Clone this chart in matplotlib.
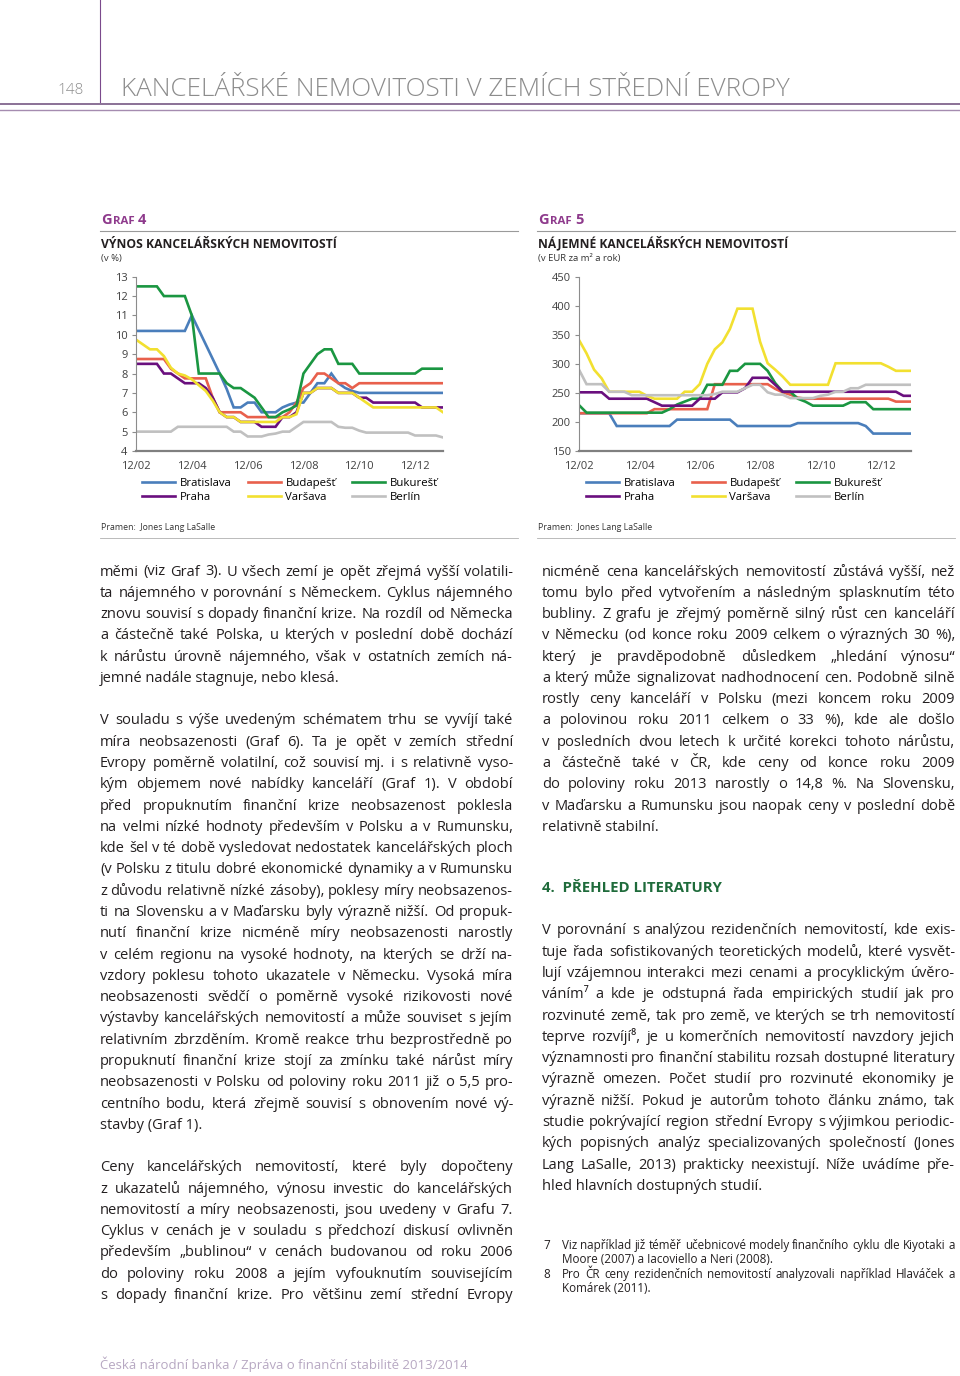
import matplotlib
matplotlib.use('Agg')
import matplotlib.pyplot as plt
from matplotlib.font_manager import FontProperties
import numpy as np

FAM = ['Open Sans', 'DejaVu Sans']
plt.rcParams['font.family'] = FAM

# ---------------- data ----------------
quarters = np.arange(45)          # 12/02 ... 12/13, quarterly
tick_pos = [0, 8, 16, 24, 32, 40]
tick_lab = ['12/02', '12/04', '12/06', '12/08', '12/10', '12/12']
cities = ['Bratislava', 'Budapešť', 'Bukurešť', 'Praha', 'Varšava', 'Berlín']
colors = ['#4a7ebb', '#e8604c', '#1a9641', '#6a0f7e', '#f2e030', '#c0c0c0']

# Graf 4 - vynos (v %)
y_bratislava = [10.2]*8 + [11.0, 10.25, 9.5, 8.75, 8.0, 7.2, 6.25, 6.25, 6.5, 6.5, 6.0, 6.0, 6.0,
                6.25, 6.4, 6.5, 6.5, 7.0, 7.5, 7.5, 8.0, 7.5, 7.25, 7.1] + [7.0]*13
y_budapest = [8.75]*5 + [8.25, 8.0, 7.75, 7.75, 7.75, 7.75, 6.75, 6.0, 6.0, 6.0, 6.0] + [5.75]*6 + \
             [6.0, 6.5, 7.25, 7.5, 8.0, 8.0, 7.75, 7.5, 7.5, 7.25] + [7.5]*13
y_bukurest = [12.5]*4 + [12.0]*4 + [11.0, 8.0, 8.0, 8.0, 8.0, 7.5, 7.25, 7.25, 7.0, 6.75, 6.25, 5.75,
              5.75, 6.0, 6.15, 6.35, 8.0, 8.5, 9.0, 9.25, 9.25, 8.5, 8.5, 8.5] + [8.0]*9 + [8.25]*4
y_praha = [8.5]*4 + [8.0, 8.0, 7.75, 7.5, 7.5, 7.5, 7.25, 6.75, 6.0, 5.75, 5.75, 5.5, 5.5, 5.5,
           5.25, 5.25, 5.25, 5.75, 5.75, 6.0, 7.0, 7.0, 7.25, 7.25, 7.25, 7.0, 7.0, 7.0, 6.75, 6.75] + \
          [6.5]*7 + [6.25]*4
y_varsava = [9.75, 9.5, 9.25, 9.25, 8.9, 8.3, 8.0, 7.9, 7.7, 7.4, 7.1, 6.6, 6.0, 5.75, 5.75] + [5.5]*6 + \
            [5.75, 5.75, 5.9, 7.0, 7.0, 7.25, 7.25, 7.25, 7.0, 7.0, 7.0, 6.75, 6.5] + [6.25]*10 + [6.0]
y_berlin = [5.0]*6 + [5.25]*8 + [5.0, 5.0, 4.75, 4.75, 4.75, 4.85, 4.9, 5.0, 5.0, 5.25] + [5.5]*5 + \
           [5.25, 5.2, 5.2, 5.05] + [4.95]*7 + [4.8]*4 + [4.7]
yields = [y_bratislava, y_budapest, y_bukurest, y_praha, y_varsava, y_berlin]

# Graf 5 - najemne (EUR za m2 a rok)
r_bratislava = [215]*5 + [193]*8 + [204]*8 + [193]*8 + [198]*9 + [193] + [180]*6
r_budapest = [215]*10 + [222]*8 + [265]*8 + [257, 251, 247, 242] + [240]*12 + [235]*3
r_bukurest = [229] + [216]*11 + [222, 230, 235, 240, 240] + [264]*3 + [288, 288] + [300]*3 + \
             [288, 267, 252, 252, 240, 235] + [228]*5 + [234]*3 + [222]*6
r_praha = [251]*4 + [240]*6 + [234] + [228]*5 + [240]*3 + [251]*3 + [258] + [276]*3 + [264] + \
          [252]*16 + [245]*2
r_varsava = [341, 318, 290, 275] + [252]*5 + [245] + [240]*4 + [252, 252, 265, 300, 325, 337, 360] + \
            [395]*3 + [338, 301, 290, 278] + [264]*6 + [301]*7 + [295] + [288]*3
r_berlin = [290] + [265]*3 + [252]*3 + [246]*11 + [248] + [252]*3 + [258, 264, 264, 251, 247, 247] + \
           [241]*4 + [245, 247, 252, 252, 258, 258] + [264]*7
rents = [r_bratislava, r_budapest, r_bukurest, r_praha, r_varsava, r_berlin]

# ---------------- page ----------------
W, H = 960, 1376
fig = plt.figure(figsize=(W/100, H/100), dpi=100)
page = fig.add_axes([0, 0, 1, 1])
page.set_xlim(0, W)
page.set_ylim(H, 0)
page.axis('off')
renderer = fig.canvas.get_renderer()

TXT = '#231f20'


def tw(s, size, weight='normal'):
    fp = FontProperties(family=FAM, size=size, weight=weight)
    return renderer.get_text_width_height_descent(s, fp, ismath=False)[0]


def fit(s, width, weight='normal'):
    return 10 * width / tw(s, 10, weight)


def put_line(x0, x1, y, s, size, justify, color=TXT, weight='normal'):
    words = s.split()
    if not justify or len(words) < 2:
        page.text(x0, y, ' '.join(words), fontsize=size, color=color, weight=weight,
                  ha='left', va='baseline')
        return
    ws = [tw(w, size, weight) for w in words]
    gap = (x1 - x0 - sum(ws)) / (len(words) - 1)
    x = x0
    for w, wd in zip(words, ws):
        page.text(x, y, w, fontsize=size, color=color, weight=weight, ha='left', va='baseline')
        x += wd + gap


def block(lines, x0, x1, y0, pitch, size, last_free=True):
    for k, s in enumerate(lines):
        put_line(x0, x1, y0 + k * pitch, s, size, not (last_free and k == len(lines) - 1))


# header
page.plot([100, 100], [0, 102], color='#7b4a8c', lw=0.8)
page.plot([0, W], [104, 104], color='#8a7196', lw=1.4)
page.plot([0, W], [110, 110], color='#a58cb0', lw=1.0)
page.text(57, 94, '148', fontsize=11, color='#8c8c8c', ha='left', va='baseline', weight='light')
title = 'KANCELÁŘSKÉ NEMOVITOSTI V ZEMÍCH STŘEDNÍ EVROPY'
page.text(121, 96, title, fontsize=fit(title, 669, 'light'), color='#8c8c8c', weight='light',
          ha='left', va='baseline')

PURPLE = '#8e3a8c'


def chart_head(x0, x1, num, heading, unit):
    gs = 10.5
    page.text(x0, 224, 'G', fontsize=gs, color=PURPLE, weight='bold', ha='left', va='baseline')
    xg = x0 + tw('G', gs, 'bold') + 1
    page.text(xg, 224, 'RAF', fontsize=8.2, color=PURPLE, weight='bold', ha='left', va='baseline')
    xr = xg + tw('RAF', 8.2, 'bold') + 4
    page.text(xr, 224, num, fontsize=gs, color=PURPLE, weight='bold', ha='left', va='baseline')
    page.plot([x0 - 1, x1], [230.5, 230.5], color='#9a9a9a', lw=0.8)
    page.text(x0, 247.5, heading, fontsize=fit(heading, 234 if num == '4' else 249, 'bold'),
              color=TXT, weight='bold', ha='left', va='baseline')
    page.text(x0, 260.5, unit, fontsize=6.8, color='#333333', ha='left', va='baseline')
    page.text(x0, 529.5, 'Pramen:  Jones Lang LaSalle', fontsize=fit('Pramen:  Jones Lang LaSalle', 113),
              color='#333333', ha='left', va='baseline')
    page.plot([x0 - 1, x1], [538, 538], color='#b0b0b0', lw=0.6)


chart_head(101, 518, '4', 'VÝNOS KANCELÁŘSKÝCH NEMOVITOSTÍ', '(v %)')
chart_head(538, 955, '5', 'NÁJEMNÉ KANCELÁŘSKÝCH NEMOVITOSTÍ', '(v EUR za m² a rok)')


def px_axes(l, t, r, b):
    return fig.add_axes([l / W, 1 - b / H, (r - l) / W, (b - t) / H])


def draw_chart(l, r, series, ylim, yticks, leg_x):
    ax = px_axes(l, 276.7, r, 451)
    for vals, name, c in zip(series, cities, colors):
        ax.plot(quarters, vals, color=c, lw=1.9, label=name, solid_joinstyle='miter')
    ax.set_xlim(0, 44)
    ax.set_ylim(*ylim)
    ax.set_yticks(yticks)
    ax.set_xticks(tick_pos)
    ax.set_xticklabels(tick_lab)
    for s in ['top', 'right']:
        ax.spines[s].set_visible(False)
    ax.spines['left'].set_color('#8c8c8c')
    ax.spines['left'].set_linewidth(0.8)
    ax.spines['bottom'].set_color('#808080')
    ax.spines['bottom'].set_linewidth(1.6)
    ax.tick_params(axis='y', direction='out', length=3, width=0.8, color='#8c8c8c',
                   labelsize=8, labelcolor='#404040', pad=3)
    ax.tick_params(axis='x', length=0, labelsize=8, labelcolor='#404040', pad=7)
    ax.set_facecolor('none')
    hs, ls = ax.get_legend_handles_labels()
    order = [0, 3, 1, 4, 2, 5]
    ax.legend([hs[k] for k in order], [ls[k] for k in order], ncol=3, loc='upper left',
              bbox_to_anchor=(leg_x / W, 1 - 478 / H), bbox_transform=fig.transFigure,
              frameon=False, fontsize=8.2, handlelength=2.9, handletextpad=0.4,
              columnspacing=1.45, labelspacing=0.3, borderpad=0, borderaxespad=0)
    return ax


draw_chart(136, 443, yields, (4, 13), range(4, 14), 142)
draw_chart(579, 911, rents, (150, 450), range(150, 451, 50), 586)

# ---------------- body text ----------------
left_p1 = [
    "měmi (viz Graf 3).  U všech zemí je opět zřejmá vyšší volatili-",
    "ta nájemného v porovnání s Německem. Cyklus nájemného",
    "znovu souvisí s dopady finanční krize. Na rozdíl od Německa",
    "a částečně také Polska, u kterých v poslední době dochází",
    "k nárůstu úrovně nájemného, však v ostatních zemích ná-",
    "jemné nadále stagnuje, nebo klesá.",
]
left_p2 = [
    "V souladu s výše uvedeným schématem trhu se vyvíjí také",
    "míra neobsazenosti (Graf 6). Ta je opět v zemích střední",
    "Evropy poměrně volatilní, což souvisí mj. i s relativně vyso-",
    "kým objemem nové nabídky kanceláří (Graf 1). V období",
    "před propuknutím finanční krize neobsazenost poklesla",
    "na velmi nízké hodnoty především v Polsku a v Rumunsku,",
    "kde šel v té době vysledovat nedostatek kancelářských ploch",
    "(v Polsku z titulu dobré ekonomické dynamiky a v Rumunsku",
    "z důvodu relativně nízké zásoby), poklesy míry neobsazenos-",
    "ti na Slovensku a v Maďarsku byly výrazně nižší. Od propuk-",
    "nutí finanční krize nicméně míry neobsazenosti narostly",
    "v celém regionu na vysoké hodnoty, na kterých se drží na-",
    "vzdory poklesu tohoto ukazatele v Německu.  Vysoká míra",
    "neobsazenosti svědčí o poměrně vysoké rizikovosti nové",
    "výstavby kancelářských nemovitostí a může souviset s jejím",
    "relativním zbrzděním. Kromě reakce trhu bezprostředně po",
    "propuknutí finanční krize stojí za zmínku také nárůst míry",
    "neobsazenosti v Polsku od poloviny roku 2011 již o 5,5 pro-",
    "centního bodu, která zřejmě souvisí s obnovením nové vý-",
    "stavby (Graf 1).",
]
left_p3 = [
    "Ceny kancelářských nemovitostí, které byly dopočteny",
    "z ukazatelů nájemného, výnosu investic do kancelářských",
    "nemovitostí a míry neobsazenosti, jsou uvedeny v Grafu 7.",
    "Cyklus v cenách je v souladu s předchozí diskusí ovlivněn",
    "především „bublinou“ v cenách budovanou od roku 2006",
    "do poloviny roku 2008 a jejím vyfouknutím souvisejícím",
    "s dopady finanční krize. Pro většinu zemí střední Evropy",
]
right_p1 = [
    "nicméně cena kancelářských nemovitostí zůstává vyšší, než",
    "tomu bylo před vytvořením a následným splasknutím této",
    "bubliny. Z grafu je zřejmý poměrně silný růst cen kanceláří",
    "v Německu (od konce roku 2009 celkem o výrazných 30 %),",
    "který je pravděpodobně důsledkem „hledání výnosu“",
    "a který může signalizovat nadhodnocení cen. Podobně silně",
    "rostly ceny kanceláří v Polsku (mezi koncem roku 2009",
    "a polovinou roku 2011 celkem o 33 %), kde ale došlo",
    "v posledních dvou letech k určité korekci tohoto nárůstu,",
    "a částečně také v ČR, kde ceny od konce roku 2009",
    "do poloviny roku 2013 narostly o 14,8 %. Na Slovensku,",
    "v Maďarsku a Rumunsku jsou naopak ceny v poslední době",
    "relativně stabilní.",
]
right_p2 = [
    "V porovnání s analýzou rezidenčních nemovitostí, kde exis-",
    "tuje řada sofistikovaných teoretických modelů, které vysvět-",
    "lují vzájemnou interakci mezi cenami a procyklickým úvěro-",
    "váním⁷ a kde je odstupná řada empirických studií jak pro",
    "rozvinuté země, tak pro země, ve kterých se trh nemovitostí",
    "teprve rozvíjí⁸, je u komerčních nemovitostí navzdory jejich",
    "významnosti pro finanční stabilitu rozsah dostupné literatury",
    "výrazně omezen. Počet studií pro rozvinuté ekonomiky je",
    "výrazně nižší. Pokud je autorům tohoto článku známo, tak",
    "studie pokrývající region střední Evropy s výjimkou periodic-",
    "kých popisných analýz specializovaných společností (Jones",
    "Lang LaSalle, 2013) prakticky neexistují. Níže uvádíme pře-",
    "hled hlavních dostupných studií.",
]

BS = fit("jemné nadále stagnuje, nebo klesá.", 239)
P = 21.28
B0 = 575.5
block(left_p1, 100, 513, B0, P, BS)
block(left_p2, 100, 513, B0 + 7 * P, P, BS)
block(left_p3, 100, 513, B0 + 28 * P, P, BS, last_free=False)
block(right_p1, 542, 955, B0, P, BS)
page.text(542, 892.5, '4.  PŘEHLED LITERATURY', fontsize=BS * 1.02, weight='bold', color='#1f6b3b',
          ha='left', va='baseline')
block(right_p2, 542, 955, 934.5, P, BS)

# footnotes
FS = fit("Viz například již téměř učebnicové modely finančního cyklu dle Kiyotaki a", 393)
notes = [
    ('7', ["Viz například již téměř učebnicové modely finančního cyklu dle Kiyotaki a",
           "Moore (2007) a Iacoviello a Neri (2008)."]),
    ('8', ["Pro ČR ceny rezidenčních nemovitostí analyzovali například Hlaváček a",
           "Komárek (2011)."]),
]
yb = 1249
for num, lines in notes:
    page.text(543, yb, num, fontsize=FS, color=TXT, ha='left', va='baseline')
    block(lines, 562, 955, yb, 14.3, FS)
    yb += 28.6

# footer
foot = 'Česká národní banka / Zpráva o finanční stabilitě 2013/2014'
page.text(100, 1369, foot, fontsize=fit(foot, 365), color='#b7a8c2', ha='left', va='baseline')

fig.savefig('out.png', dpi=100)
